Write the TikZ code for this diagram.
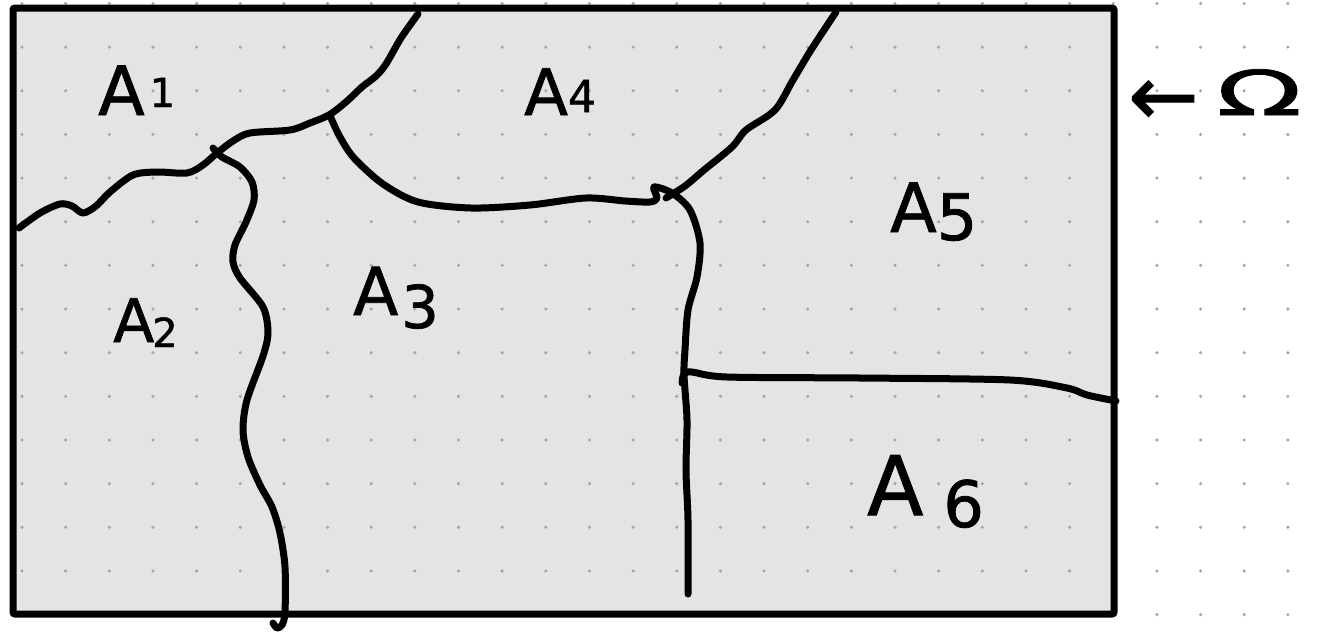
\documentclass[tikz,border=0pt]{standalone}
\usepackage{fontspec}
\setmainfont{DejaVu Sans}
\newfontfamily\handfont[FakeBold=1.2]{DejaVu Sans}
\definecolor{panel}{HTML}{E4E4E4}
\definecolor{dotc}{HTML}{A4A4A4}
\begin{document}
\begin{tikzpicture}[x=1pt,y=-1pt,
  pen/.style={line width=7pt, line cap=round, line join=round},
  frame/.style={line width=7pt, rounded corners=2pt},
  region/.style={anchor=base west, inner sep=0pt},
  big/.style={font=\handfont\fontsize{#1}{#1}\selectfont}]
\useasboundingbox (0,0) rectangle (1320,632);
\fill[white] (0,0) rectangle (1320,632);
% the set Omega
\fill[panel] (13,8) rectangle (1114,614);
% dotted paper
\foreach \i in {0,...,29}
  \foreach \j in {0,...,14}
    \fill[dotc] (22+43.65*\i, 3.5+43.65*\j) circle (1.7);

% junctions of the partition boundaries
\coordinate (j12) at (217,153);
\coordinate (j13) at (329,115);
\coordinate (j35) at (672,193);
\coordinate (j56) at (684,375);

% boundary A1 | A2,A3
\draw[pen] plot[smooth] coordinates {(19,228) (40,213) (60,204) (72,206) (83,213) (96,206) (110,192) (133,175) (157,172) (187,173) (203,165) (j12) (233,141) (250,133) (290,130) (310,123) (j13) (346,102) (362,87) (376,76) (386,64) (401,38) (418,14)};
% boundary A2 | A3
\draw[pen] plot[smooth] coordinates {(213,148) (222,157) (240,167) (252,182) (254,200) (246,222) (235,245) (233,262) (240,278) (263,307) (268,333) (263,356) (247,400) (243,430) (248,457) (260,485) (272,507) (280,533) (285,567) (285,612) (282,625) (277,628) (273,623)};
% boundary A3 | A4, continuing down as A3 | A5,A6
\draw[pen] plot[smooth] coordinates {(331,118) (340,137) (354,158) (383,184) (418,202) (471,208) (530,205) (586,198) (625,201) (650,202) (657,198) (654,187) (j35) (690,210) (700,243) (697,277) (688,310) (685,350) (j56) (687,420) (686,470) (688,520) (688,594)};
% boundary A4 | A5
\draw[pen] plot[smooth] coordinates {(666,198) (685,186) (704,170) (732,147) (746,130) (775,110) (793,80) (811,50) (836,12)};
% boundary A5 | A6
\draw[pen] plot[smooth] coordinates {(682,383) (684,374) (692,372) (727,377) (860,378) (1010,380) (1067,388) (1087,395) (1116,401)};

% outline of Omega
\draw[frame] (13,8) rectangle (1114,614);

% region labels
\node[region, big=68] (a1) at (98,115) {A\kern5pt\raisebox{8pt}{\fontsize{40}{40}\selectfont 1}};
\node[region, big=64] (a4) at (524,115) {A\kern0pt\raisebox{3pt}{\fontsize{44}{44}\selectfont 4}};
\node[region, big=68] (a5) at (890,232) {A\kern0pt\raisebox{-8pt}{\fontsize{64}{64}\selectfont 5}};
\node[region, big=60] (a2) at (113,342) {A\kern-2pt\raisebox{-5pt}{\fontsize{40}{40}\selectfont 2}};
\node[region, big=66] (a3) at (353,315) {A\kern3pt\raisebox{-13pt}{\fontsize{59}{59}\selectfont 3}};
\node[region, big=82] (a6) at (867,515) {A\kern20pt\raisebox{-12pt}{\fontsize{64}{64}\selectfont 6}};
\node[region, big=84] (om) at (1128,125) {←\kern18pt\raisebox{10pt}{\fontsize{62}{62}\selectfont\scalebox{1.8}[1]{Ω}}};
\end{tikzpicture}
\end{document}
